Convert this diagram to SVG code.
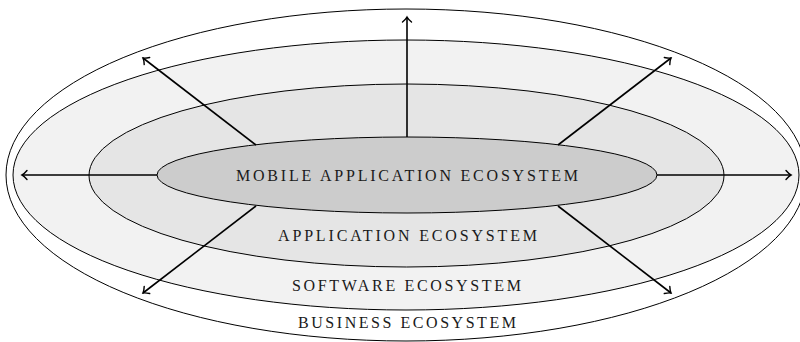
<svg xmlns="http://www.w3.org/2000/svg" width="800" height="342" viewBox="0 0 800 342">
<style>
.ell{stroke:#000;stroke-width:1}
.lbl{font-family:"Liberation Serif","DejaVu Serif",serif;font-size:16px;fill:#1a1a1a;text-anchor:middle}
.arr{stroke:#000;stroke-width:1.6;fill:none;marker-end:url(#ah)}
</style>
<defs>
<marker id="ah" markerUnits="userSpaceOnUse" viewBox="-8 -6 10 12" markerWidth="10" markerHeight="12" refX="0" refY="0" orient="auto">
<path d="M-5,-4.5 Q-2,-1 0,0 Q-2,1 -5,4.5" fill="none" stroke="#000" stroke-width="1.4" stroke-linecap="round"/>
</marker>
</defs>
<g id="business"><ellipse class="ell" cx="406" cy="175" rx="400" ry="166" fill="#fff"/></g>
<g id="software"><ellipse class="ell" cx="406" cy="175" rx="393" ry="135" fill="#f2f2f2"/></g>
<g id="application"><ellipse class="ell" cx="406.5" cy="175.5" rx="317.5" ry="91.5" fill="#e5e5e5"/></g>
<g id="mobile"><ellipse class="ell" cx="407" cy="175" rx="250" ry="38" fill="#cccccc"/></g>
<g id="connectors">
<line class="arr" x1="157" y1="175" x2="22" y2="175"/>
<line class="arr" x1="657" y1="175" x2="791" y2="175"/>
<line class="arr" x1="407" y1="137" x2="407" y2="17"/>
<line class="arr" x1="256" y1="145" x2="143" y2="58"/>
<line class="arr" x1="256" y1="206" x2="143" y2="293"/>
<line class="arr" x1="558" y1="145" x2="671" y2="58"/>
<line class="arr" x1="558" y1="206" x2="671" y2="293"/>
</g>
<g id="labels">
<text class="lbl" x="407" y="181" textLength="342" lengthAdjust="spacing">MOBILE APPLICATION ECOSYSTEM</text>
<text class="lbl" x="407.5" y="241" textLength="259" lengthAdjust="spacing">APPLICATION ECOSYSTEM</text>
<text class="lbl" x="406.5" y="291" textLength="229" lengthAdjust="spacing">SOFTWARE ECOSYSTEM</text>
<text class="lbl" x="407" y="328" textLength="218" lengthAdjust="spacing">BUSINESS ECOSYSTEM</text>
</g>
</svg>
